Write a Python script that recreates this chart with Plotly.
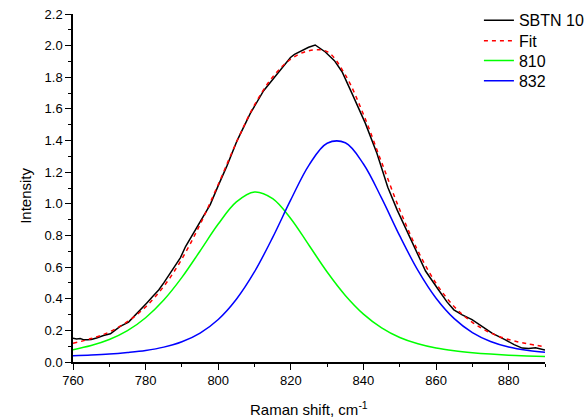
import plotly.graph_objects as go

# Measured spectrum (SBTN 10)
shift_data = [760, 761, 762, 763, 764, 765, 766.5, 768.4, 770.3, 772, 773, 775.3, 777.6, 780.4, 782,
              783.6, 785, 786.8, 789.6, 791, 792.3, 795, 797.8, 800, 802.4, 805.2, 808.8, 812.5, 816.6,
              818.5, 819.9, 821, 822.6, 824.9, 826.7, 828, 829.5, 832, 834.1, 836.8, 840.5, 843.7, 846.7,
              849.3, 852.5, 855, 857.1, 860.7, 863, 864.9, 867.2, 869.9, 872.5, 875.4, 879.1, 881.5,
              883.7, 885.5, 887.4, 889, 890]
intensity_data = [0.150, 0.146, 0.148, 0.140, 0.141, 0.142, 0.152, 0.168, 0.178, 0.205, 0.225, 0.252,
                  0.305, 0.375, 0.415, 0.455, 0.500, 0.560, 0.660, 0.730, 0.780, 0.880, 0.995, 1.115,
                  1.240, 1.400, 1.570, 1.715, 1.835, 1.885, 1.925, 1.945, 1.965, 1.990, 2.004, 1.985,
                  1.960, 1.905, 1.835, 1.700, 1.510, 1.320, 1.105, 0.960, 0.805, 0.680, 0.575, 0.455,
                  0.380, 0.330, 0.298, 0.268, 0.225, 0.182, 0.140, 0.110, 0.088, 0.085, 0.090, 0.082,
                  0.076]

# Fit and components
shift_fit = [760, 765, 770, 775, 780, 785, 790, 795, 800, 805, 810, 815, 820, 825, 830, 835, 840,
             845, 850, 855, 860, 865, 870, 875, 880, 885, 890]
peak_810 = [0.078, 0.104, 0.142, 0.198, 0.280, 0.392, 0.535, 0.702, 0.872, 1.012, 1.075, 1.033, 0.906,
            0.738, 0.569, 0.421, 0.303, 0.216, 0.155, 0.115, 0.088, 0.071, 0.059, 0.050, 0.043, 0.038,
            0.034]
peak_832 = [0.040, 0.044, 0.050, 0.060, 0.073, 0.094, 0.128, 0.183, 0.269, 0.397, 0.571, 0.788, 1.026,
            1.245, 1.383, 1.386, 1.252, 1.036, 0.797, 0.579, 0.403, 0.274, 0.186, 0.130, 0.095, 0.074,
            0.062]
fit_total = [0.118, 0.148, 0.190, 0.255, 0.348, 0.478, 0.652, 0.870, 1.122, 1.388, 1.625, 1.802, 1.915,
             1.968, 1.962, 1.815, 1.565, 1.262, 0.962, 0.702, 0.497, 0.350, 0.250, 0.184, 0.142, 0.116,
             0.097]

x_ticks = [760, 780, 800, 820, 840, 860, 880]
y_ticks = [0.0, 0.2, 0.4, 0.6, 0.8, 1.0, 1.2, 1.4, 1.6, 1.8, 2.0, 2.2]

FONT = "Arial, Liberation Sans, sans-serif"

fig = go.Figure()
fig.add_trace(go.Scatter(x=shift_data, y=intensity_data, mode="lines", name="SBTN 10",
                         line=dict(color="#000000", width=1.5), legend="legend"))
fig.add_trace(go.Scatter(x=shift_fit, y=fit_total, mode="lines", name="Fit",
                         line=dict(color="#FF0000", width=1.5, dash="4px,4px", shape="spline"),
                         legend="legend2"))
fig.add_trace(go.Scatter(x=shift_fit, y=peak_810, mode="lines", name="810",
                         line=dict(color="#00FF00", width=1.5, shape="spline"), legend="legend3"))
fig.add_trace(go.Scatter(x=shift_fit, y=peak_832, mode="lines", name="832",
                         line=dict(color="#0000FF", width=1.5, shape="spline"), legend="legend4"))

LEG_X = 0.860
leg_common = dict(x=LEG_X, xanchor="left", yanchor="middle",
                  font=dict(size=16, family=FONT), bgcolor="rgba(0,0,0,0)", borderwidth=0)

fig.update_layout(
    width=600, height=420,
    margin=dict(l=73, r=55, t=14, b=58, autoexpand=False),
    paper_bgcolor="white", plot_bgcolor="white",
    font=dict(family=FONT, size=13, color="#000000"),
    showlegend=True,
    legend=dict(y=0.982, **leg_common),
    legend2=dict(y=0.923, **leg_common),
    legend3=dict(y=0.866, **leg_common),
    legend4=dict(y=0.808, **leg_common),
    xaxis=dict(range=[760, 890], tickvals=x_ticks, ticks="outside", ticklen=6, tickwidth=1.2,
               tickcolor="#000", showline=True, linecolor="#000", linewidth=1.5, showgrid=False,
               zeroline=False, tickfont=dict(size=13, family=FONT), automargin=False,
               ticklabeloverflow="allow",
               minor=dict(dtick=10, tick0=760, ticks="outside", ticklen=3, tickcolor="#000", tickwidth=1.2)),
    yaxis=dict(range=[0, 2.2], tickvals=y_ticks, tickformat=".1f", ticks="outside", ticklen=6,
               tickwidth=1.2, tickcolor="#000", showline=True, linecolor="#000", linewidth=1.5,
               showgrid=False, zeroline=False, tickfont=dict(size=13, family=FONT), automargin=False,
               ticklabeloverflow="allow",
               minor=dict(dtick=0.1, tick0=0, ticks="outside", ticklen=3, tickcolor="#000", tickwidth=1.2)),
    annotations=[
        dict(text="Raman shift, cm<sup>-1</sup>", xref="paper", yref="paper", x=0.5, y=-0.100,
             xanchor="center", yanchor="top", showarrow=False, font=dict(size=15, family=FONT)),
        dict(text="Intensity", xref="paper", yref="paper", x=-0.102, y=0.477, textangle=-90,
             xanchor="center", yanchor="middle", showarrow=False, font=dict(size=15, family=FONT)),
    ],
)

fig.write_html("out.html", config={"displayModeBar": False},
               post_script="document.body.style.margin='0';document.body.style.overflow='hidden';")
